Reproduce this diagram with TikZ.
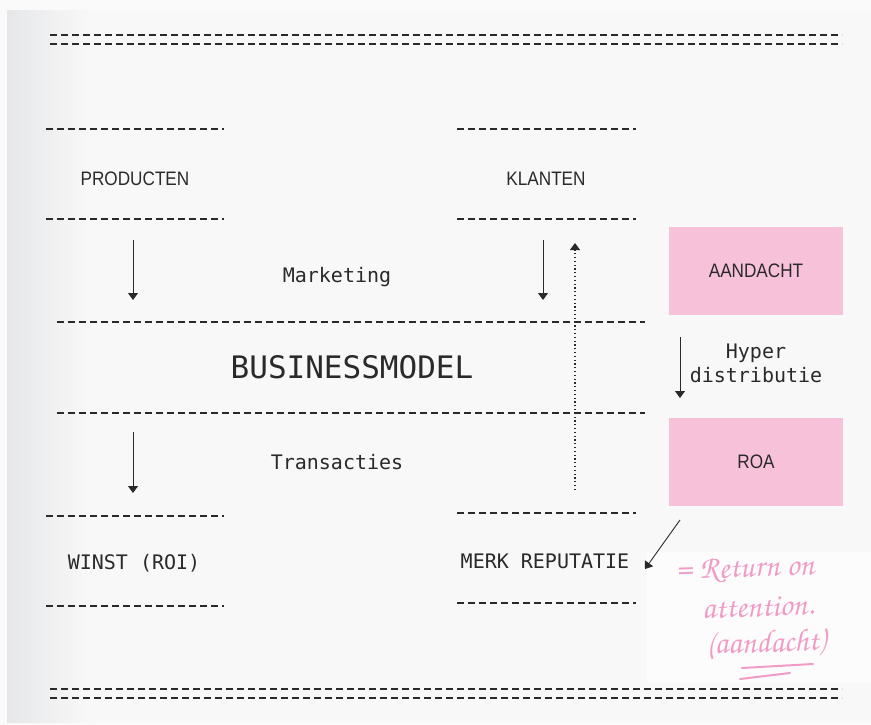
\documentclass[tikz,border=0pt]{standalone}
\usepackage{fontspec}
\setmonofont{DejaVu Sans Mono}
\newfontfamily\headfont[FakeStretch=0.88]{Liberation Sans}
\newfontfamily\handfont{texgyrechorus-mediumitalic.otf}
\usetikzlibrary{arrows.meta}
\definecolor{pagegray}{HTML}{F8F8F8}
\definecolor{edgegray}{HTML}{E6E7E9}
\definecolor{boxpink}{HTML}{F7C1DA}
\definecolor{inkpink}{HTML}{F09CC6}
\definecolor{linegray}{HTML}{2A2A2A}
\begin{document}
\begin{tikzpicture}[x=1pt,y=-1pt,
	blockline/.style={draw=linegray,line width=1.5pt,dash pattern=on 7pt off 4pt},
	flowarrow/.style={draw=linegray,line width=0.9pt,-{Triangle[length=7pt,width=10pt]}},
	monotext/.style={font=\ttfamily\fontsize{20}{24}\selectfont,text=linegray,inner sep=0pt},
	headtext/.style={font=\headfont\fontsize{19.5}{23}\selectfont,text=linegray,inner sep=0pt},
	pinkbox/.style={headtext,fill=boxpink,minimum width=174pt,minimum height=88pt},
	handtext/.style={font=\handfont\fontsize{32}{36}\selectfont,text=inkpink,inner sep=0pt,rotate=2}]
	\useasboundingbox (0,0) rectangle (871,725);
	% page
	\fill[white!98!black] (0,0) rectangle (871,725);
	\fill[pagegray] (7,11) rectangle (871,722);
	\shade[left color=edgegray,right color=pagegray] (7,11) rectangle (90,722);
	\fill[white!99!black] (647,552) rectangle (871,683);
	% double rules
	\draw[blockline] (50,35)--(842,35);
	\draw[blockline] (50,44)--(842,44);
	\draw[blockline] (50,689)--(842,689);
	\draw[blockline] (50,698)--(842,698);
	% blocks
	\draw[blockline] (46,129)--(224,129);
	\draw[blockline] (46,219)--(224,219);
	\draw[blockline] (457,129)--(636,129);
	\draw[blockline] (457,219)--(636,219);
	\draw[blockline] (57,322)--(645,322);
	\draw[blockline] (57,413)--(645,413);
	\draw[blockline] (46,516)--(224,516);
	\draw[blockline] (46,606)--(224,606);
	\draw[blockline] (457,513)--(636,513);
	\draw[blockline] (457,603)--(636,603);
	\node[headtext] (producten) at (135,179) {PRODUCTEN};
	\node[headtext] (klanten) at (546,179) {KLANTEN};
	\node[monotext] (marketing) at (337,277) {Marketing};
	\node[monotext,font=\ttfamily\fontsize{31}{36}\selectfont] (businessmodel) at (352,367) {BUSINESSMODEL};
	\node[monotext] (transacties) at (337,462) {Transacties};
	\node[monotext] (winst) at (134,563) {WINST (ROI)};
	\node[monotext] (merk) at (545,561) {MERK REPUTATIE};
	\node[pinkbox] (aandacht) at (756,271) {AANDACHT};
	\node[pinkbox] (roa) at (756,462) {ROA};
	\node[monotext,align=center] (hyper) at (756,363) {Hyper\\distributie};
	% arrows
	\coordinate (p1) at (133,240);
	\coordinate (p2) at (133,300);
	\coordinate (k1) at (543,240);
	\coordinate (k2) at (543,300);
	\coordinate (t1) at (133,432);
	\coordinate (t2) at (133,493);
	\coordinate (h1) at (680,337);
	\coordinate (h2) at (680,398);
	\coordinate (d1) at (575,490);
	\coordinate (d2) at (575,243);
	\coordinate (r1) at (680,520);
	\coordinate (r2) at (645,569);
	\draw[flowarrow] (p1) -- (p2);
	\draw[flowarrow] (k1) -- (k2);
	\draw[flowarrow] (t1) -- (t2);
	\draw[flowarrow] (h1) -- (h2);
	\draw[flowarrow,line width=1.2pt,dash pattern=on 1.2pt off 2.6pt] (d1) -- (d2);
	\draw[flowarrow] (r1) -- (r2);
	% note
	\node[handtext] (returnon) at (745,570) {= Return on};
	\node[handtext] (attention) at (758,607) {attention.};
	\node[handtext] (aandachtnote) at (766,644) {(aandacht)};
	\draw[inkpink,line width=2pt,line cap=round] (742,668) -- (813,664);
	\draw[inkpink,line width=2pt,line cap=round] (740,679) -- (790,673);
\end{tikzpicture}
\end{document}
